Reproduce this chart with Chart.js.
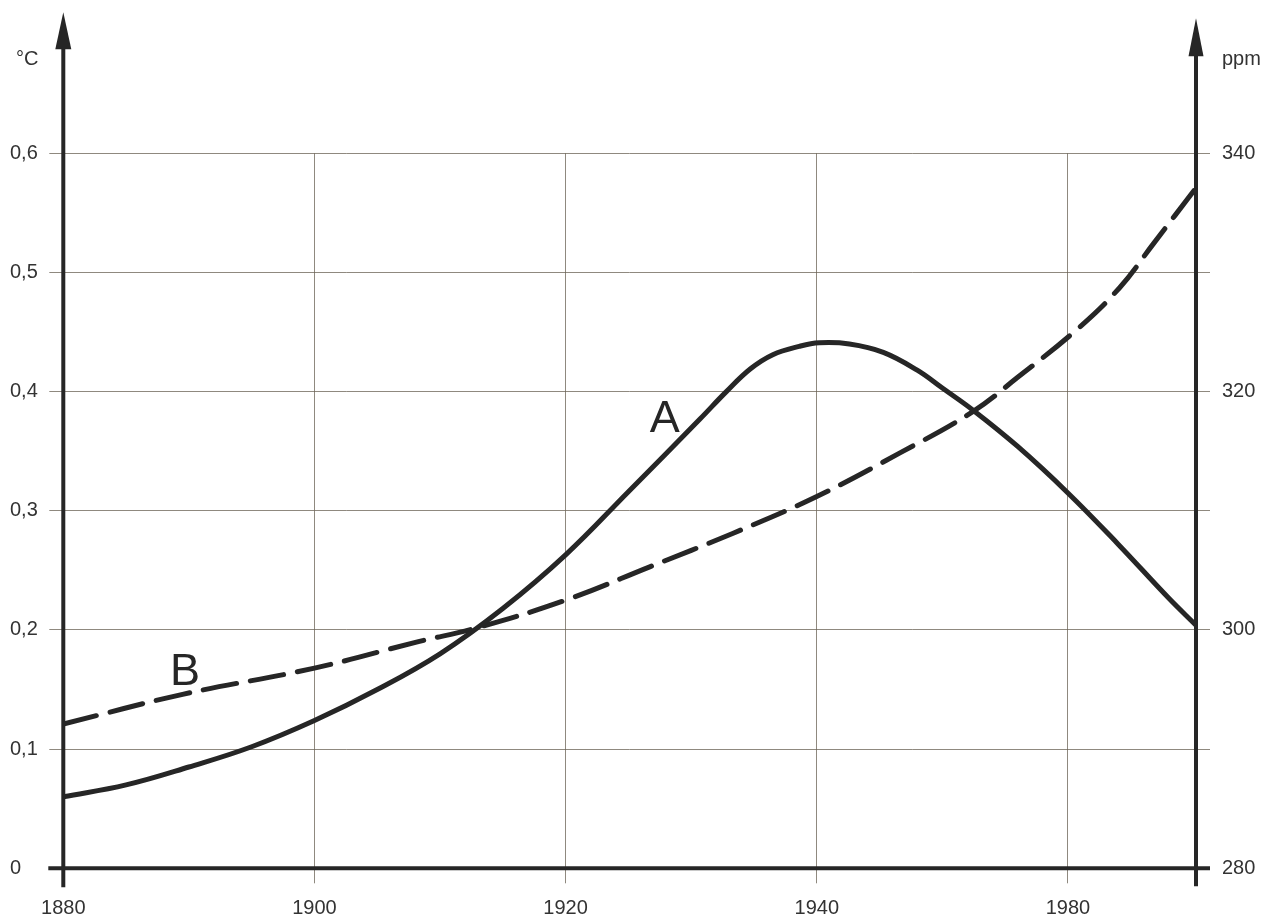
<!DOCTYPE html>
<html>
<head>
<meta charset="utf-8">
<script src="https://cdn.jsdelivr.net/npm/chart.js@4"></script>
<style>
  html, body { margin: 0; padding: 0; background: #ffffff; }
  #wrap { width: 1263px; height: 915px; }
</style>
</head>
<body>
<div id="wrap"><canvas id="c" width="1263" height="915"></canvas></div>
<script>
// Grid positions along the time axis and the labels printed under them
const tickYears  = [1880, 1900, 1920, 1940, 1960];
const tickLabels = ['1880', '1900', '1920', '1940', '1980'];

// Curve A: temperature anomaly (°C, left axis)
const yearsA = [1880, 1885, 1890, 1895, 1900, 1905, 1910, 1915, 1920, 1925, 1930.7, 1932.8, 1934.7,
                1936.5, 1938.6, 1940.2, 1942.6, 1945.3, 1948, 1950, 1952.5, 1956, 1960, 1964, 1968, 1970.2];
const tempA  = [0.060, 0.070, 0.085, 0.102, 0.124, 0.150, 0.180, 0.218, 0.263, 0.316, 0.377, 0.400, 0.419,
                0.431, 0.438, 0.441, 0.440, 0.433, 0.418, 0.403, 0.384, 0.354, 0.315, 0.272, 0.227, 0.204];

// Curve B: CO2 concentration (ppm, right axis)
const yearsB = [1880, 1889.5, 1900, 1908.2, 1913, 1920, 1926.7, 1933.3, 1940, 1946.7, 1952.4, 1956,
                1960.7, 1964.1, 1966.8, 1970.2];
const co2B   = [292.1, 294.6, 296.8, 299.0, 300.2, 302.5, 305.3, 308.1, 311.2, 314.9, 318.3, 321.2,
                325.2, 328.7, 332.4, 337.1];

// Curve letters, placed in data coordinates of the left axis
const curveTags = [
  { text: 'A', year: 1927.9, value: 0.366 },
  { text: 'B', year: 1889.7, value: 0.154 }
];

const ink = '#262626';
const textInk = '#333333';
const gridInk = 'rgba(105, 98, 84, 0.75)';
const clear = 'rgba(0,0,0,0)';
const family = '"Liberation Sans", Arial, Helvetica, sans-serif';
const tickFont = { family: family, size: 20 };

// Axis lines with arrowheads, extended beyond the plotting area
const axesPlugin = {
  id: 'axes',
  beforeDatasetsDraw(chart) {
    const { ctx, chartArea: a } = chart;
    ctx.save();
    ctx.strokeStyle = ink;
    ctx.fillStyle = ink;
    ctx.lineWidth = 4;
    ctx.lineCap = 'butt';

    const seg = (x1, y1, x2, y2) => {
      ctx.beginPath(); ctx.moveTo(x1, y1); ctx.lineTo(x2, y2); ctx.stroke();
    };
    const head = (x, tip, base, w) => {
      ctx.beginPath();
      ctx.moveTo(x, tip);
      ctx.lineTo(x + w / 2, base);
      ctx.lineTo(x - w / 2, base);
      ctx.closePath();
      ctx.fill();
    };

    // left (°C) axis
    seg(a.left, a.bottom + 19, a.left, a.top - 108);
    head(a.left, a.top - 141, a.top - 104, 16);
    // right (ppm) axis
    seg(a.right, a.bottom + 18, a.right, a.top - 100);
    head(a.right, a.top - 135, a.top - 97, 15);
    // baseline
    seg(a.left - 15, a.bottom, a.right + 14, a.bottom);
    ctx.restore();
  },
  afterDraw(chart) {
    const { ctx, chartArea: a, scales } = chart;
    ctx.save();
    ctx.fillStyle = textInk;
    ctx.font = '20px ' + family;
    ctx.textBaseline = 'middle';
    ctx.textAlign = 'left';
    ctx.fillText('°C', 16, a.top - 94);
    ctx.textBaseline = 'alphabetic';
    ctx.fillText('ppm', a.right + 26, a.top - 88);

    ctx.fillStyle = ink;
    ctx.font = '45px ' + family;
    ctx.textAlign = 'center';
    ctx.textBaseline = 'alphabetic';
    curveTags.forEach(t => {
      ctx.fillText(t.text, scales.x.getPixelForValue(t.year), scales.y.getPixelForValue(t.value));
    });
    ctx.restore();
  }
};

const chart = new Chart(document.getElementById('c'), {
  type: 'line',
  data: {
    datasets: [
      {
        label: 'A',
        data: yearsA.map((x, i) => ({ x: x, y: tempA[i] })),
        yAxisID: 'y',
        borderColor: ink,
        borderWidth: 5,
        borderJoinStyle: 'round',
        pointRadius: 0,
        tension: 0.4,
        fill: false
      },
      {
        label: 'B',
        data: yearsB.map((x, i) => ({ x: x, y: co2B[i] })),
        yAxisID: 'y1',
        borderColor: ink,
        borderWidth: 5,
        borderDash: [34, 14],
        borderCapStyle: 'round',
        pointRadius: 0,
        tension: 0.4,
        fill: false
      }
    ]
  },
  options: {
    responsive: false,
    animation: false,
    devicePixelRatio: 1,
    layout: { padding: { top: 153.3, left: 10, right: 0, bottom: 0 } },
    plugins: { legend: { display: false }, tooltip: { enabled: false } },
    scales: {
      x: {
        type: 'linear',
        min: 1880,
        max: 1970.2,
        afterFit(s) { s.height = 46.7; },
        border: { display: false },
        grid: {
          color: ctx => (ctx.tick && ctx.tick.value === 1880) ? clear : gridInk,
          lineWidth: 1,
          tickLength: 15
        },
        ticks: {
          stepSize: 20,
          includeBounds: false,
          autoSkip: false,
          maxRotation: 0,
          padding: 13,
          color: textInk,
          font: tickFont,
          callback: v => {
            const i = tickYears.indexOf(v);
            return i < 0 ? '' : tickLabels[i];
          }
        }
      },
      y: {
        type: 'linear',
        position: 'left',
        min: 0,
        max: 0.6,
        afterFit(s) { s.width = 53.3; },
        border: { display: false },
        grid: {
          color: ctx => (ctx.tick && ctx.tick.value === 0) ? clear : gridInk,
          lineWidth: 1,
          tickLength: 14
        },
        ticks: {
          stepSize: 0.1,
          crossAlign: 'far',
          color: textInk,
          font: tickFont,
          callback: v => v === 0 ? '0' : v.toFixed(1).replace('.', ',')
        }
      },
      y1: {
        type: 'linear',
        position: 'right',
        min: 280,
        max: 340,
        afterFit(s) { s.width = 67; },
        border: { display: false },
        grid: {
          drawOnChartArea: false,
          color: ctx => (ctx.tick && ctx.tick.value === 280) ? clear : gridInk,
          lineWidth: 1,
          tickLength: 14
        },
        ticks: {
          stepSize: 10,
          crossAlign: 'near',
          padding: 12,
          color: textInk,
          font: tickFont,
          callback: v => (Math.round(v - 280) % 20 === 0) ? String(v) : ''
        }
      }
    }
  },
  plugins: [axesPlugin]
});
</script>
</body>
</html>
